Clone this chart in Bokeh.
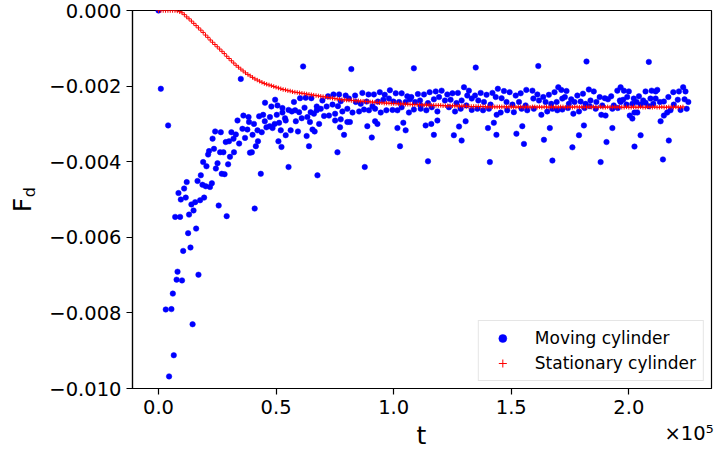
import numpy as np
from math import pi
from bokeh.plotting import figure
from bokeh.models import Range1d, FixedTicker, CustomJSTickFormatter, Label
from bokeh.embed import file_html
from bokeh.resources import INLINE

# ---------------- data (t in units of 1e3, F in units of 1e-3) ----------------
moving_t_k = [
    0.0, 1.0, 4.1,
    35.0, 36.1, 33.6, 35.7, 24.1, 26.5, 31.0, 32.9, 23.0, 28.6, 30.0, 31.9, 34.3, 36.8,
    23.6, 21.5, 21.1, 26.2, 27.6, 32.1, 30.4, 19.0, 25.1, 29.6, 20.4, 24.4, 26.9, 28.1,
    18.0, 16.6, 12.0, 18.7, 20.1, 22.7, 21.9, 10.9, 8.5, 11.6, 9.5, 19.4, 17.7, 15.6,
    14.0, 25.6, 14.9, 13.0, 7.1, 9.2, 29.0, 16.0,
    40.9, 12.6, 13.6, 10.5, 8.1, 7.7, 10.0, 17.0, 6.1, 3.1, 5.5, 14.5, 6.5, 4.5,
    61.5, 45.3, 49.6, 48.0, 50.6, 52.7, 55.3, 57.6, 60.2, 62.6, 65.0, 67.3, 69.7, 72.1,
    74.4, 76.8, 71.5, 74.0, 76.3, 38.3, 42.8, 44.5, 47.4, 50.3, 52.7, 53.8, 56.7, 58.1,
    59.8, 62.1, 64.7, 66.1, 67.3, 69.0, 70.4, 72.5, 75.1, 77.5, 38.5, 40.6, 45.2, 47.3,
    49.4, 51.3, 54.1, 58.4, 60.9, 63.3, 64.4, 68.3, 75.1, 77.2, 37.8, 40.0, 42.1, 43.9,
    45.9, 48.5, 52.0, 54.1, 56.2, 59.3, 63.0, 65.5, 66.4, 42.3, 41.4, 51.0, 52.3, 64.0,
    39.7, 38.9, 76.1, 55.3, 43.5, 67.6,
    82.0, 108.6, 79.6, 83.6, 86.7, 89.3, 91.6, 94.1, 96.2, 98.4, 100.9, 103.4, 105.8,
    107.5, 110.3, 112.9, 115.3, 77.5, 81.0, 83.9, 86.0, 88.5, 91.0, 93.3, 95.6, 98.0,
    99.9, 102.3, 105.1, 106.9, 109.1, 111.2, 111.5, 114.6, 117.1, 78.2, 80.3, 82.5, 85.3,
    87.4, 89.5, 92.1, 94.5, 96.9, 99.5, 101.6, 103.4, 106.5, 108.6, 111.5, 113.9, 116.2,
    118.6, 80.3, 81.4, 78.9, 88.8, 92.1, 93.1, 90.7, 101.6, 104.1, 105.1, 113.6, 116.0,
    117.1, 102.7, 87.7, 114.6,
    134.9, 117.9, 120.4, 122.8, 125.0, 127.3, 129.9, 132.0, 134.6, 137.0, 139.5, 142.0,
    144.3, 146.9, 149.3, 151.9, 154.0, 156.4, 119.3, 121.8, 124.2, 126.7, 128.9, 131.3,
    133.2, 136.0, 138.4, 141.2, 143.4, 145.9, 148.0, 150.5, 153.3, 156.1, 123.5, 126.1,
    128.5, 130.9, 133.2, 135.6, 138.0, 140.5, 143.8, 145.5, 148.3, 151.1, 154.4, 156.8,
    118.6, 125.6, 127.8, 128.9, 130.6, 140.1, 142.6, 143.7, 152.2, 154.7, 155.4, 140.9,
    161.5, 182.0, 159.0, 161.1, 163.6, 166.0, 168.4, 170.0, 171.3, 173.5, 175.5, 178.1,
    180.5, 183.0, 185.1, 187.6, 189.8, 192.5, 195.1, 159.4, 161.8, 164.6, 167.0, 169.3,
    171.7, 172.8, 174.5, 176.9, 179.5, 181.6, 183.7, 186.2, 188.7, 191.1, 193.6, 196.2,
    159.6, 162.8, 165.3, 167.5, 169.6, 171.7, 174.1, 176.4, 178.8, 181.2, 183.4, 185.9,
    188.3, 190.1, 193.0, 195.3, 166.4, 163.9, 180.9, 178.8, 193.0, 190.5, 176.0, 167.5,
    188.0,
    208.5, 196.5, 197.9, 200.0, 199.3, 197.6, 202.1, 204.3, 207.1, 206.1, 209.2, 209.7,
    211.4, 212.1, 211.4, 213.2, 214.9, 216.8, 218.9, 221.3, 223.1, 224.1, 223.7, 220.8,
    225.3, 224.6, 222.0, 219.1, 217.7, 216.3, 214.9, 213.5, 210.4, 208.5, 207.1, 205.0,
    203.3, 201.5, 199.0, 196.5, 203.6, 202.4, 200.4, 201.5, 205.0, 202.4, 217.0, 214.5,
]
moving_F_milli = [
    0.00, -2.07, -3.04,
    -1.81, -2.78, -2.91, -3.13, -3.20, -3.22, -3.22, -3.28, -3.39, -3.48, -3.46, -3.39, -3.52, -3.37,
    -3.66, -3.72, -3.81, -3.75, -3.75, -3.75, -3.87, -4.01, -4.04, -4.07, -4.12, -4.18, -4.32, -4.33,
    -4.36, -4.51, -4.54, -4.61, -4.65, -4.57, -4.67, -4.71, -4.83, -4.95, -5.00, -4.95, -5.02, -5.07,
    -5.13, -5.16, -5.29, -5.40, -5.46, -5.46, -5.44, -5.77,
    -5.24, -5.89, -6.27, -6.36, -6.91, -7.12, -7.14, -6.99, -7.49, -7.91, -7.90, -8.30, -9.12, -9.68,
    -1.48, -2.44, -2.36, -2.54, -2.51, -2.58, -2.63, -2.42, -2.32, -2.31, -2.32, -2.54, -2.38, -2.27,
    -2.22, -2.22, -2.54, -2.49, -2.53, -2.82, -2.80, -2.76, -2.82, -2.76, -2.70, -2.85, -2.67, -2.64,
    -2.69, -2.57, -2.69, -2.73, -2.64, -2.60, -2.79, -2.78, -2.73, -2.88, -2.95, -3.00, -2.93, -3.06,
    -3.00, -2.97, -2.91, -2.93, -2.85, -2.82, -2.95, -3.00, -2.91, -3.09, -3.15, -3.29, -3.17, -3.22,
    -3.09, -3.11, -3.17, -3.30, -3.17, -3.20, -3.32, -3.15, -3.20, -3.46, -3.59, -3.46, -3.61, -3.59,
    -3.75, -3.76, -3.75, -4.14, -4.32, -4.36,
    -1.55, -1.53, -2.25, -2.25, -2.18, -2.22, -2.22, -2.16, -2.23, -2.11, -2.19, -2.19, -2.27,
    -2.29, -2.21, -2.22, -2.16, -2.40, -2.33, -2.42, -2.47, -2.41, -2.53, -2.41, -2.36, -2.33,
    -2.41, -2.42, -2.42, -2.35, -2.42, -2.38, -2.51, -2.45, -2.35, -2.67, -2.60, -2.70, -2.67,
    -2.62, -2.64, -2.60, -2.70, -2.64, -2.63, -2.64, -2.56, -2.70, -2.62, -2.60, -2.64, -2.56,
    -2.67, -2.95, -2.95, -3.29, -3.06, -2.93, -3.00, -3.36, -3.11, -2.97, -3.17, -3.04, -3.00,
    -3.29, -3.59, -4.14, -3.99,
    -1.51, -2.14, -2.12, -2.22, -2.19, -2.18, -2.03, -2.12, -2.25, -2.18, -2.23, -2.18,
    -2.07, -2.13, -2.16, -2.25, -2.19, -2.10, -2.29, -2.38, -2.36, -2.45, -2.38, -2.25,
    -2.33, -2.38, -2.42, -2.49, -2.29, -2.32, -2.42, -2.49, -2.42, -2.51, -2.56, -2.67,
    -2.60, -2.51, -2.63, -2.60, -2.64, -2.60, -2.76, -2.70, -2.64, -2.69, -2.60, -2.64,
    -2.91, -3.30, -3.07, -3.44, -2.93, -3.11, -2.97, -3.29, -3.26, -3.06, -3.53, -4.01,
    -1.47, -1.35, -2.12, -2.22, -2.29, -2.23, -2.16, -2.03, -2.10, -2.13, -2.35, -2.25,
    -2.20, -2.09, -2.14, -2.29, -2.32, -2.27, -2.12, -2.33, -2.38, -2.42, -2.47, -2.42,
    -2.33, -2.29, -2.47, -2.42, -2.41, -2.47, -2.38, -2.42, -2.51, -2.35, -2.51, -2.38,
    -2.60, -2.76, -2.67, -2.60, -2.64, -2.62, -2.58, -2.73, -2.67, -2.58, -2.53, -2.60,
    -2.76, -2.78, -2.60, -2.58, -3.11, -3.42, -3.04, -3.30, -3.11, -3.48, -3.62, -3.97,
    -4.01,
    -1.36, -2.03, -2.12, -2.14, -2.29, -2.36, -2.33, -2.27, -2.14, -2.38, -2.33, -2.12,
    -2.14, -2.10, -2.33, -2.42, -2.41, -2.29, -2.16, -2.14, -2.03, -2.14, -2.35, -2.36,
    -2.42, -2.60, -2.63, -2.49, -2.64, -2.70, -2.78, -2.93, -2.47, -2.53, -2.44, -2.49,
    -2.42, -2.47, -2.49, -2.42, -2.70, -2.70, -2.78, -2.86, -3.30, -3.60, -3.44, -3.94,
]

stationary_t_k = list(range(0, 224))
stationary_F_milli = [
    0.00, 0.00, 0.00, 0.00, 0.00, 0.00, 0.00, 0.00, -0.01, -0.03,
    -0.06, -0.11, -0.17, -0.22, -0.28, -0.34, -0.40, -0.46, -0.52, -0.58,
    -0.65, -0.71, -0.78, -0.84, -0.90, -0.96, -1.02, -1.08, -1.14, -1.21,
    -1.27, -1.33, -1.39, -1.45, -1.50, -1.55, -1.60, -1.65, -1.69, -1.73,
    -1.77, -1.81, -1.84, -1.87, -1.90, -1.93, -1.95, -1.97, -1.99, -2.01,
    -2.03, -2.05, -2.07, -2.09, -2.10, -2.12, -2.13, -2.15, -2.16, -2.17,
    -2.18, -2.19, -2.20, -2.21, -2.22, -2.23, -2.24, -2.25, -2.26, -2.27,
    -2.28, -2.29, -2.30, -2.31, -2.32, -2.33, -2.34, -2.35, -2.36, -2.36,
    -2.37, -2.37, -2.38, -2.38, -2.39, -2.39, -2.40, -2.40, -2.41, -2.41,
    -2.42, -2.42, -2.43, -2.43, -2.44, -2.44, -2.45, -2.45, -2.45, -2.46,
    -2.46, -2.46, -2.47, -2.47, -2.47, -2.48, -2.48, -2.48, -2.49, -2.49,
    -2.49, -2.49, -2.50, -2.50, -2.50, -2.50, -2.51, -2.51, -2.51, -2.51,
    -2.51, -2.52, -2.52, -2.52, -2.52, -2.52, -2.52, -2.53, -2.53, -2.53,
    -2.53, -2.53, -2.54, -2.54, -2.54, -2.54, -2.54, -2.54, -2.54, -2.55,
    -2.55, -2.55, -2.55, -2.55, -2.55, -2.55, -2.55, -2.55, -2.55, -2.55,
    -2.55, -2.55, -2.56, -2.55, -2.55, -2.56, -2.55, -2.55, -2.56, -2.55,
    -2.55, -2.56, -2.55, -2.56, -2.55, -2.55, -2.56, -2.55, -2.56, -2.55,
    -2.56, -2.55, -2.55, -2.56, -2.56, -2.55, -2.56, -2.55, -2.55, -2.56,
    -2.55, -2.56, -2.56, -2.55, -2.56, -2.55, -2.56, -2.56, -2.55, -2.56,
    -2.56, -2.55, -2.56, -2.56, -2.55, -2.56, -2.55, -2.56, -2.56, -2.55,
    -2.56, -2.56, -2.55, -2.56, -2.56, -2.55, -2.56, -2.56, -2.55, -2.56,
    -2.56, -2.55, -2.56, -2.56, -2.55, -2.56, -2.56, -2.55, -2.56, -2.56,
    -2.55, -2.56, -2.56, -2.55,
]

x_ticks = [0, 50000, 100000, 150000, 200000]
y_ticks = [-0.010, -0.008, -0.006, -0.004, -0.002, 0.0]

series_names = ["Moving cylinder", "Stationary cylinder"]
x_title = "t"
y_title_main = "F"
y_title_sub = "d"
offset_text = "\u00d710\u2075"

# ---------------- figure ----------------
FONT = "DejaVu Sans"
mt = np.array(moving_t_k) * 1e3
mF = np.array(moving_F_milli) * 1e-3
st = np.array(stationary_t_k) * 1e3
sF = np.array(stationary_F_milli) * 1e-3

p = figure(width=714, height=450, output_backend="svg", toolbar_location=None,
           x_range=Range1d(-11050, 235150), y_range=Range1d(-0.010, 0.0),
           min_border_left=132, min_border_right=3, min_border_top=10, min_border_bottom=62)

p.scatter(mt, mF, marker="circle", size=5.5, fill_color="#0000ff", line_color="#0000ff",
          line_width=0.5, legend_label=series_names[0])
p.scatter(st, sF, marker="cross", size=4.5, line_color="#ff0000", line_width=1,
          legend_label=series_names[1])

p.xgrid.visible = False
p.ygrid.visible = False
p.outline_line_color = "black"
p.outline_line_width = 1.2
p.background_fill_color = "white"
p.border_fill_color = "white"

p.xaxis.ticker = FixedTicker(ticks=x_ticks)
p.yaxis.ticker = FixedTicker(ticks=y_ticks)
p.xaxis.formatter = CustomJSTickFormatter(code="return (tick/1e5).toFixed(1);")
p.yaxis.formatter = CustomJSTickFormatter(
    code="var s = Math.abs(tick).toFixed(3); return (tick < -1e-12 ? '\\u2212' : '') + s;")

for ax in (p.xaxis, p.yaxis):
    ax.major_label_text_font = FONT
    ax.major_label_text_font_size = "19.5px"
    ax.major_label_text_color = "black"
    ax.major_tick_out = 6
    ax.major_tick_in = 0
    ax.minor_tick_out = 0
    ax.minor_tick_in = 0
    ax.major_tick_line_color = "black"
    ax.major_tick_line_width = 1.2
    ax.axis_line_color = "black"
    ax.axis_line_width = 1.2
    ax.major_label_standoff = 5

# axis titles: labels in canvas pixel coordinates, parked in side panels so they are not clipped
def canvas_label(side, x, y, text, size, align, baseline, angle=0.0):
    lab = Label(x=x, y=y, x_units="canvas", y_units="canvas", text=text,
                text_font=FONT, text_font_size=size, text_align=align,
                text_baseline=baseline, angle=angle, text_color="black")
    p.add_layout(lab, side)
    return lab

canvas_label("left", 421, 434.5, x_title, "25px", "center", "middle")
canvas_label("left", 21.5, 204.6, y_title_main, "25px", "center", "middle", pi / 2)
canvas_label("above", 28.8, 191.6, y_title_sub, "16px", "center", "middle", pi / 2)
canvas_label("below", 713, 433, offset_text, "19.5px", "right", "middle")

lg = p.legend[0]
lg.location = "bottom_right"
lg.margin = 7
lg.padding = 7
lg.spacing = 5
lg.glyph_width = 33
lg.glyph_height = 20
lg.label_height = 20
lg.label_standoff = 16
lg.label_text_font = FONT
lg.label_text_font_size = "17px"
lg.label_text_color = "black"
lg.border_line_color = "#cccccc"
lg.border_line_width = 1
lg.background_fill_alpha = 0.8

open("out.html", "w").write(file_html(p, INLINE))
